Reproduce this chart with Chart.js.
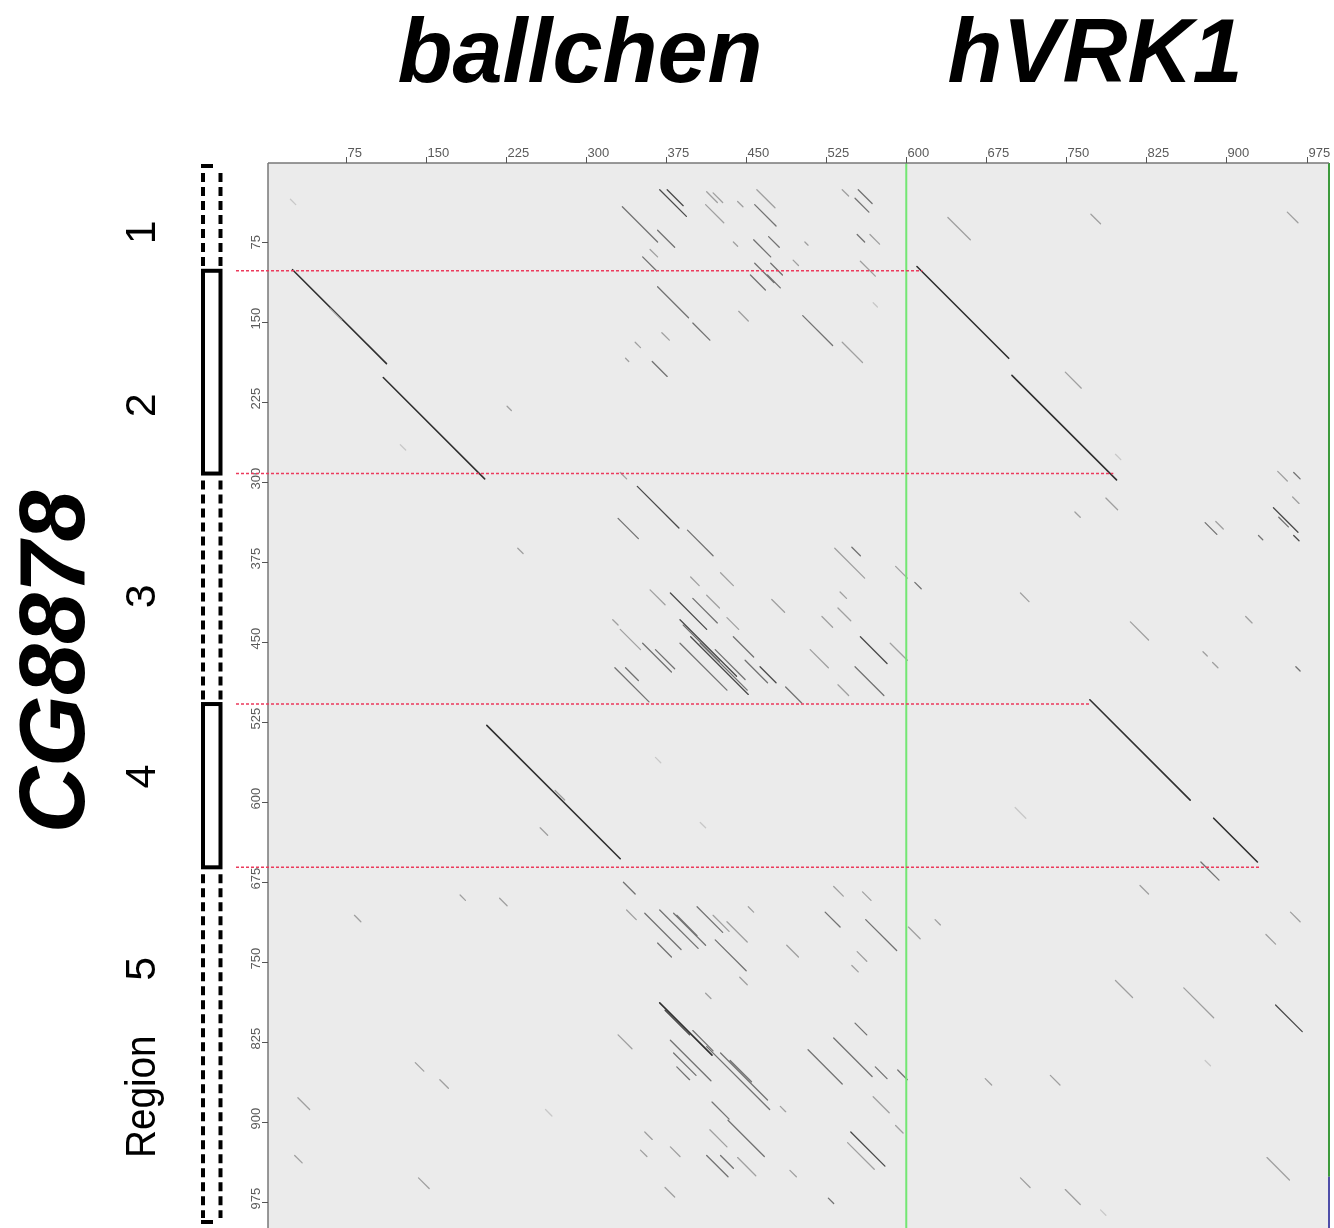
<!DOCTYPE html>
<html>
<head>
<meta charset="utf-8">
<script src="https://cdn.jsdelivr.net/npm/chart.js@4.4.1/dist/chart.umd.min.js"></script>
<style>
html,body{margin:0;padding:0;background:#fff;}
canvas{display:block;}
</style>
</head>
<body>
<canvas id="plot" width="1334" height="1228"></canvas>
<script>
// sequences on the two axes
var seqTop = ['ballchen', 'hVRK1'];
var seqLeft = 'CG8878';
var seqBreak = 600;      // ballchen ends / hVRK1 starts on x
var xStart = 2, xEnd = 997;
var yStart = 1, yEnd = 999;
var endSplit = 951;      // right edge marker changes colour here
var tickStep = 75;
var tickValues = [75, 150, 225, 300, 375, 450, 525, 600, 675, 750, 825, 900, 975];

// regions of CG8878 (y axis)
var regionNames = ['1', '2', '3', '4', '5'];
var regionBounds = [102, 292, 508, 661];
var regionSolid = [false, true, false, true, false];
var regionLabelY = [66, 228, 407, 576, 756];
var regionWordY = 876;
var redLineEnds = [615, 794, 772, 932];

// diagonal match segments: start x, start y, length, score (0 faint .. 4 strong)
var segX = [25,110,610,699,207,772,888,
  369,376,334,367,353,413,419,460,457,471,442,438,540,555,552,554,566,505,494,360,412,458,639,773,957,23,458,473,557,
  454,470,367,400,371,346,362,503,540,443,569,337,226,749,796,60,126,
  348,332,330,395,398,426,379,400,413,388,398,388,407,432,438,463,353,365,327,337,325,487,474,521,536,538,533,549,557,552,536,590,608,585,510,236,890,758,787,810,707,948,963,962,944,949,963,880,930,918,878,887,965,391,407,421,449,332,360,
  271,257,407,365,702,876,
  335,338,355,369,382,385,404,419,421,432,367,444,452,524,532,559,562,488,554,549,602,412,369,374,400,379,382,385,413,426,435,330,418,433,416,413,426,442,355,379,351,374,482,491,527,508,532,552,571,592,548,545,569,590,83,30,27,143,140,163,182,219,262,627,674,735,796,819,860,880,960,937,946,938,707,749,782];
var segY = [101,202,98,200,528,504,615,
  26,26,42,64,89,28,29,26,73,70,37,75,26,26,34,68,68,75,92,82,40,40,52,49,47,35,95,95,93,
  106,106,117,151,160,169,187,144,169,140,132,184,229,197,274,137,265,
  304,291,334,345,389,385,404,409,406,429,445,451,451,427,445,473,451,457,474,474,429,492,410,426,418,403,362,361,445,473,490,379,394,451,457,362,337,328,315,431,404,290,291,314,324,333,350,338,350,426,459,469,473,434,448,457,467,438,401,
  589,624,619,558,605,656,
  675,701,704,701,704,706,698,706,729,712,732,764,698,703,679,684,710,734,740,753,717,779,788,795,814,823,835,848,829,835,842,818,881,898,907,931,931,933,909,923,926,961,885,945,971,832,821,807,848,851,909,919,876,903,706,877,931,952,844,860,687,690,888,710,859,856,767,678,774,842,703,724,790,933,952,963,982];
var segLen = [88,95,86,98,125,94,41,
  25,15,33,16,13,10,9,17,16,10,5,4,6,13,13,7,9,3,5,7,17,20,21,9,10,5,18,11,14,
  14,12,29,16,7,5,14,28,19,9,4,3,4,15,5,11,5,
  39,6,19,24,8,12,34,23,12,53,54,44,44,11,19,15,27,18,32,12,5,15,12,10,12,6,28,8,25,27,10,11,6,16,17,5,7,5,11,17,8,9,6,6,23,9,5,11,4,6,4,5,4,34,31,28,21,19,14,
  9,7,5,5,10,17,
  11,9,34,36,30,19,24,15,29,19,13,7,5,14,9,8,29,11,9,6,11,5,49,23,19,38,21,12,59,44,20,13,16,34,16,20,12,17,7,9,6,9,5,6,5,32,36,11,11,9,32,25,15,7,6,11,7,10,8,8,5,7,6,5,6,9,16,8,28,5,9,9,25,21,9,14,5];
var segScore = [4,4,4,4,4,4,4,
  3,3,2,2,2,1,1,1,2,2,1,1,1,2,2,2,1,1,1,1,1,2,1,1,1,0,2,2,1,
  2,2,2,2,1,1,2,2,1,1,0,1,1,1,0,1,0,
  3,1,2,2,1,1,3,2,1,3,3,2,2,1,2,3,2,2,2,2,1,2,1,1,1,1,1,2,3,2,1,1,2,1,1,1,1,1,1,1,1,1,2,1,3,2,3,2,2,1,1,1,2,2,3,2,2,1,1,
  1,1,0,0,0,2,
  2,1,2,2,2,2,2,1,2,1,2,1,1,2,1,1,2,1,1,1,1,1,4,3,2,2,2,2,2,2,2,1,2,2,1,2,2,1,1,1,1,1,1,1,2,2,2,2,2,2,3,1,1,1,1,1,1,1,1,1,1,1,0,1,1,1,1,1,1,0,1,1,3,1,1,1,0];

var shades = ['#c8c8c8', '#a0a0a0', '#737373', '#4a4a4a', '#303030'];

var datasets = shades.map(function(col, s) {
	var pts = [];
	for (var i = 0; i < segX.length; i++) {
		if (segScore[i] !== s) continue;
		pts.push({x: segX[i], y: segY[i]});
		pts.push({x: segX[i] + segLen[i], y: segY[i] + segLen[i]});
		pts.push({x: segX[i], y: null});
	}
	return {
		data: pts,
		borderColor: col,
		borderWidth: s == 4 ? 1.6 : 1.3,
		borderCapStyle: 'round',
		showLine: true,
		spanGaps: false,
		pointRadius: 0,
		fill: false
	};
});

vline = (c, x, y1, y2) => { c.beginPath(); c.moveTo(x, y1); c.lineTo(x, y2); c.stroke(); };
hline = (c, x1, x2, y) => { c.beginPath(); c.moveTo(x1, y); c.lineTo(x2, y); c.stroke(); };

rotText = (c, txt, x, y, sx) => {
	c.save();
	c.translate(x, y);
	c.rotate(-Math.PI / 2);
	if (sx) c.scale(sx, 1);
	c.fillText(txt, 0, 0);
	c.restore();
};

var dotplot = {
	id: 'dotplot',
	beforeDatasetsDraw: function(chart) {
		var a = chart.chartArea, c = chart.ctx;
		c.save();
		c.fillStyle = '#ebebeb';
		c.fillRect(a.left, a.top, a.right - a.left, a.bottom - a.top);
		c.restore();
	},
	afterDatasetsDraw: function(chart) {
		var a = chart.chartArea, c = chart.ctx;
		var xs = chart.scales.x, ys = chart.scales.y;
		c.save();

		// boundary between the two top sequences
		c.strokeStyle = '#72e672';
		c.lineWidth = 2;
		vline(c, xs.getPixelForValue(seqBreak), a.top, a.bottom);

		// right edge end markers
		var ex = xs.getPixelForValue(xEnd) - 1;
		c.strokeStyle = '#3c9a3c';
		vline(c, ex, a.top, ys.getPixelForValue(endSplit));
		c.strokeStyle = '#4e4ea8';
		vline(c, ex, ys.getPixelForValue(endSplit), a.bottom);

		// frame
		c.strokeStyle = '#777';
		c.lineWidth = 1.5;
		hline(c, a.left, ex, a.top);
		vline(c, a.left, a.top, a.bottom);

		// ticks and labels
		c.strokeStyle = '#555';
		c.fillStyle = '#5a5a5a';
		c.lineWidth = 1;
		c.font = '13px "Liberation Sans"';
		c.textAlign = 'left';
		c.textBaseline = 'alphabetic';
		tickValues.forEach(function(v) {
			var x = Math.round(xs.getPixelForValue(v)) + 0.5;
			vline(c, x, a.top - 6, a.top);
			c.fillText(String(v), x + 1, a.top - 6);
			var y = Math.round(ys.getPixelForValue(v)) + 0.5;
			hline(c, a.left - 6, a.left, y);
			rotText(c, String(v), a.left - 8, y + 7);
		});

		// region boundaries
		c.strokeStyle = '#ec3a5c';
		c.lineWidth = 1.5;
		c.setLineDash([3, 2]);
		regionBounds.forEach(function(b, i) {
			var y = ys.getPixelForValue(b);
			hline(c, a.left - 32, xs.getPixelForValue(redLineEnds[i]), y);
		});

		// region boxes
		var bx1 = 203, bx2 = 220.5;
		c.strokeStyle = '#000';
		c.lineWidth = 4;
		for (var i = 0; i < regionNames.length; i++) {
			var top = i === 0 ? a.top + 3 : ys.getPixelForValue(regionBounds[i - 1]);
			var bot = i === regionNames.length - 1 ? a.bottom - 6 : ys.getPixelForValue(regionBounds[i]);
			if (regionSolid[i]) {
				c.setLineDash([]);
				c.strokeRect(bx1, top, bx2 - bx1, bot - top);
			} else {
				c.setLineDash([9, 5]);
				vline(c, bx1, top + 7, bot - 4);
				vline(c, bx2, top + 7, bot - 4);
				c.setLineDash([]);
				if (i === 0) hline(c, bx1 - 2, bx1 + 10, top);
				if (i === regionNames.length - 1) hline(c, bx1 - 2, bx1 + 10, bot);
			}
		}
		c.setLineDash([]);

		// region labels
		c.fillStyle = '#000';
		c.textAlign = 'center';
		c.font = '43px "Liberation Sans"';
		regionNames.forEach(function(r, i) {
			rotText(c, r, 155, ys.getPixelForValue(regionLabelY[i]));
		});
		rotText(c, 'Region', 155, ys.getPixelForValue(regionWordY), 0.9);

		// sequence names
		c.font = 'italic bold 92px "Liberation Sans"';
		rotText(c, seqLeft, 84, 662);
		c.font = 'italic bold 90px "Liberation Sans"';
		c.fillText(seqTop[0], 580, 82);
		c.fillText(seqTop[1], 1095, 82);

		c.restore();
	}
};

var chart = new Chart(document.getElementById('plot').getContext('2d'), {
	type: 'scatter',
	data: { datasets: datasets },
	options: {
		responsive: false,
		animation: false,
		devicePixelRatio: 1,
		events: [],
		layout: { padding: { left: 268, top: 163, right: 4, bottom: 0 } },
		plugins: { legend: { display: false }, tooltip: { enabled: false } },
		scales: {
			x: { type: 'linear', position: 'top', display: false, min: xStart, max: xEnd, ticks: { stepSize: tickStep } },
			y: { type: 'linear', reverse: true, display: false, min: yStart, max: yEnd, ticks: { stepSize: tickStep } }
		}
	},
	plugins: [dotplot]
});
</script>
</body>
</html>
